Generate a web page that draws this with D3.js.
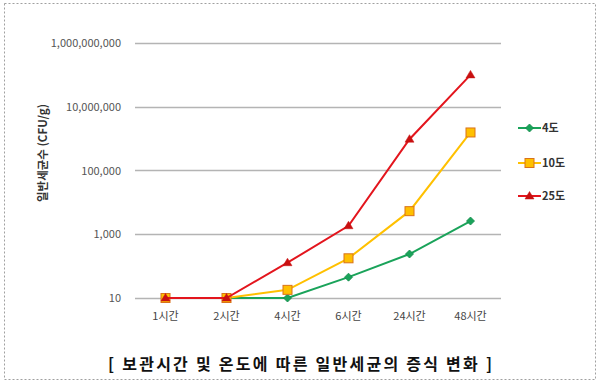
<!DOCTYPE html>
<html><head><meta charset="utf-8">
<script src="https://cdn.jsdelivr.net/npm/d3@7"></script>
<style>
html,body{margin:0;padding:0;background:#fff;}
svg{display:block;}
</style></head>
<body>
<div id="chart"></div>
<script>
const categories = ["1시간","2시간","4시간","6시간","24시간","48시간"];
const seriesNames = ["4도","10도","25도"];
const values4 = [10, 10, 10, 45, 240, 2600];
const values10 = [10, 10, 18, 176, 5300, 1560000];
const values25 = [10, 10, 128, 1850, 960000, 100000000];
const yTicks = [10, 1000, 100000, 10000000, 1000000000];
const yTitle = "일반세균수 (CFU/g)";
const title = "[ 보관시간 및 온도에 따른 일반세균의 증식 변화 ]";

const W = 600, H = 383;
const svg = d3.select("#chart").append("svg").attr("width", W).attr("height", H);
const font = "'Noto Sans CJK KR','Noto Sans',sans-serif";

// border
svg.append("rect").attr("x", 4.5).attr("y", 3.5).attr("width", 591).attr("height", 376)
  .attr("fill", "none").attr("stroke", "#a0a0a0").attr("stroke-width", 1).attr("stroke-dasharray", "2,2");

const x = d3.scaleBand().domain(categories).range([135, 501]);
const y = d3.scaleLog().domain([10, 1e9]).range([298, 43]);

// grid lines
svg.append("g").selectAll("line").data(yTicks).join("line")
  .attr("x1", 135).attr("x2", 501)
  .attr("y1", d => Math.round(y(d)) + 0.5).attr("y2", d => Math.round(y(d)) + 0.5)
  .attr("stroke", "#b4b4b4").attr("stroke-width", 1.3);

// y axis labels
const yAxis = d3.axisLeft(y).tickValues(yTicks).tickFormat(d3.format(",")).tickSize(0).tickPadding(0);
const gy = svg.append("g").attr("transform", "translate(121,0)").call(yAxis);
gy.select(".domain").remove();
gy.selectAll("text").attr("font-family", font).attr("font-size", 11).attr("fill", "#555");

// x axis labels
const xAxis = d3.axisBottom(x).tickSize(0).tickPadding(0);
const gx = svg.append("g").attr("transform", "translate(0,312)").call(xAxis);
gx.select(".domain").remove();
gx.selectAll("text").attr("font-family", font).attr("font-size", 11).attr("fill", "#444").attr("dy", "0.7em");

// y title
svg.append("text").attr("transform", "translate(47,153) rotate(-90)")
  .attr("text-anchor", "middle").attr("font-family", font).attr("font-size", 11.5)
  .attr("font-weight", "bold").attr("fill", "#333").text(yTitle);

const series = [
  {name: seriesNames[0], values: values4, color: "#1aa35a", mark: "diamond", mfill: "#1aa35a", mstroke: "#138a4a"},
  {name: seriesNames[1], values: values10, color: "#ffc000", mark: "square", mfill: "#ffc000", mstroke: "#d9731a"},
  {name: seriesNames[2], values: values25, color: "#e3151d", mark: "triangle", mfill: "#c81010", mstroke: "#c81010"}
];

const cx = c => x(c) + x.bandwidth() / 2;
const line = d3.line().x((d, i) => cx(categories[i])).y(d => y(d));

function drawMarker(g, type, px, py, s) {
  if (type === "diamond") {
    g.append("path").attr("d", `M${px},${py-4}L${px+4},${py}L${px},${py+4}L${px-4},${py}Z`)
      .attr("fill", s.mfill).attr("stroke", s.mstroke).attr("stroke-width", 0.8);
  } else if (type === "square") {
    g.append("rect").attr("x", px - 4.5).attr("y", py - 4.5).attr("width", 9).attr("height", 9)
      .attr("fill", s.mfill).attr("stroke", s.mstroke).attr("stroke-width", 1);
  } else {
    g.append("path").attr("d", `M${px},${py-4.5}L${px+4.5},${py+3}L${px-4.5},${py+3}Z`)
      .attr("fill", s.mfill).attr("stroke", s.mstroke).attr("stroke-width", 0.5);
  }
}

series.forEach(s => {
  const g = svg.append("g");
  g.append("path").datum(s.values).attr("d", line).attr("fill", "none")
    .attr("stroke", s.color).attr("stroke-width", 2);
  s.values.forEach((v, i) => drawMarker(g, s.mark, cx(categories[i]), y(v), s));
});

// legend
const legY = [128, 163, 196];
series.forEach((s, i) => {
  const g = svg.append("g");
  g.append("line").attr("x1", 518).attr("x2", 541).attr("y1", legY[i]).attr("y2", legY[i])
    .attr("stroke", s.color).attr("stroke-width", 2);
  drawMarker(g, s.mark, 529.5, legY[i], s);
  g.append("text").attr("x", 542).attr("y", legY[i]).attr("dy", "0.35em")
    .attr("font-family", font).attr("font-size", 11).attr("font-weight", "bold")
    .attr("fill", "#333").text(s.name);
});

// title
svg.append("text").attr("x", 300).attr("y", 364).attr("dy", "0.35em").attr("text-anchor", "middle")
  .attr("font-family", font).attr("font-size", 16).attr("font-weight", "bold").attr("fill", "#111")
  .attr("textLength", 384).attr("lengthAdjust", "spacing").text(title);
</script>
</body></html>
